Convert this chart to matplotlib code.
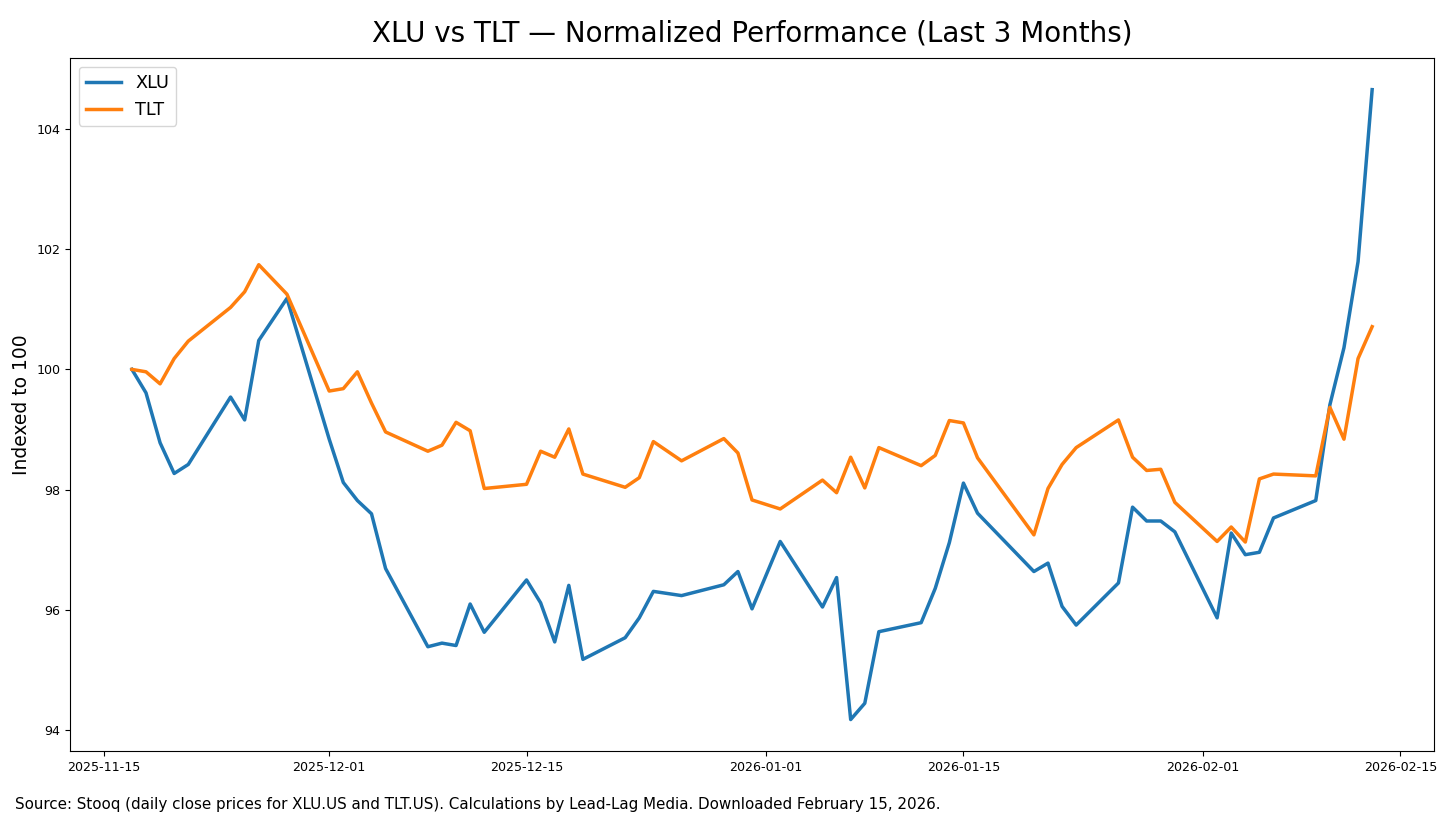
import numpy as np
import pandas as pd
import matplotlib
matplotlib.use("Agg")
import matplotlib.pyplot as plt
import matplotlib.dates as mdates

# trading days (Stooq daily closes)
dates = [
    "2025-11-17", "2025-11-18", "2025-11-19", "2025-11-20", "2025-11-21",
    "2025-11-24", "2025-11-25", "2025-11-26", "2025-11-28",
    "2025-12-01", "2025-12-02", "2025-12-03", "2025-12-04", "2025-12-05",
    "2025-12-08", "2025-12-09", "2025-12-10", "2025-12-11", "2025-12-12",
    "2025-12-15", "2025-12-16", "2025-12-17", "2025-12-18", "2025-12-19",
    "2025-12-22", "2025-12-23", "2025-12-24", "2025-12-26",
    "2025-12-29", "2025-12-30", "2025-12-31", "2026-01-02",
    "2026-01-05", "2026-01-06", "2026-01-07", "2026-01-08", "2026-01-09",
    "2026-01-12", "2026-01-13", "2026-01-14", "2026-01-15", "2026-01-16",
    "2026-01-20", "2026-01-21", "2026-01-22", "2026-01-23",
    "2026-01-26", "2026-01-27", "2026-01-28", "2026-01-29", "2026-01-30",
    "2026-02-02", "2026-02-03", "2026-02-04", "2026-02-05", "2026-02-06",
    "2026-02-09", "2026-02-10", "2026-02-11", "2026-02-12", "2026-02-13",
]

xlu = [
    100.00, 99.61, 98.78, 98.27, 98.42,
    99.54, 99.16, 100.48, 101.18,
    98.84, 98.12, 97.82, 97.60, 96.69,
    95.39, 95.45, 95.41, 96.10, 95.63,
    96.50, 96.12, 95.47, 96.41, 95.18,
    95.54, 95.87, 96.31, 96.24,
    96.42, 96.64, 96.02, 97.14,
    96.05, 96.54, 94.18, 94.45, 95.64,
    95.79, 96.36, 97.12, 98.11, 97.61,
    96.64, 96.78, 96.06, 95.75,
    96.45, 97.71, 97.48, 97.48, 97.30,
    95.87, 97.28, 96.92, 96.96, 97.53,
    97.82, 99.41, 100.36, 101.79, 104.65,
]

tlt = [
    100.00, 99.96, 99.76, 100.18, 100.47,
    101.03, 101.29, 101.74, 101.25,
    99.64, 99.68, 99.96, 99.44, 98.96,
    98.64, 98.74, 99.12, 98.98, 98.02,
    98.09, 98.64, 98.54, 99.01, 98.26,
    98.04, 98.20, 98.80, 98.48,
    98.85, 98.61, 97.83, 97.68,
    98.16, 97.95, 98.54, 98.03, 98.70,
    98.40, 98.57, 99.15, 99.11, 98.53,
    97.25, 98.02, 98.42, 98.70,
    99.16, 98.54, 98.32, 98.34, 97.79,
    97.14, 97.38, 97.13, 98.18, 98.26,
    98.23, 99.37, 98.84, 100.18, 100.71,
]

d = pd.to_datetime(dates)

fig = plt.figure(figsize=(14.56, 8.19), dpi=100)
ax = fig.add_axes([0.048, 0.083, 0.937, 0.846])

ax.plot(d, xlu, color="#1f77b4", lw=2.5, label="XLU")
ax.plot(d, tlt, color="#ff7f0e", lw=2.5, label="TLT")

ax.xaxis.set_major_locator(mdates.DayLocator(bymonthday=[1, 15]))
ax.xaxis.set_major_formatter(mdates.DateFormatter("%Y-%m-%d"))
ax.tick_params(labelsize=9.1)

ax.set_title("XLU vs TLT \u2014 Normalized Performance (Last 3 Months)", fontsize=20, pad=12)
ax.set_ylabel("Indexed to 100", fontsize=13.5)
ax.legend(loc="upper left", fontsize=12.7)

fig.text(0.0103, 0.018,
         "Source: Stooq (daily close prices for XLU.US and TLT.US). "
         "Calculations by Lead-Lag Media. Downloaded February 15, 2026.",
         fontsize=10.9, ha="left", va="center")

fig.savefig("out.png", dpi=100)
